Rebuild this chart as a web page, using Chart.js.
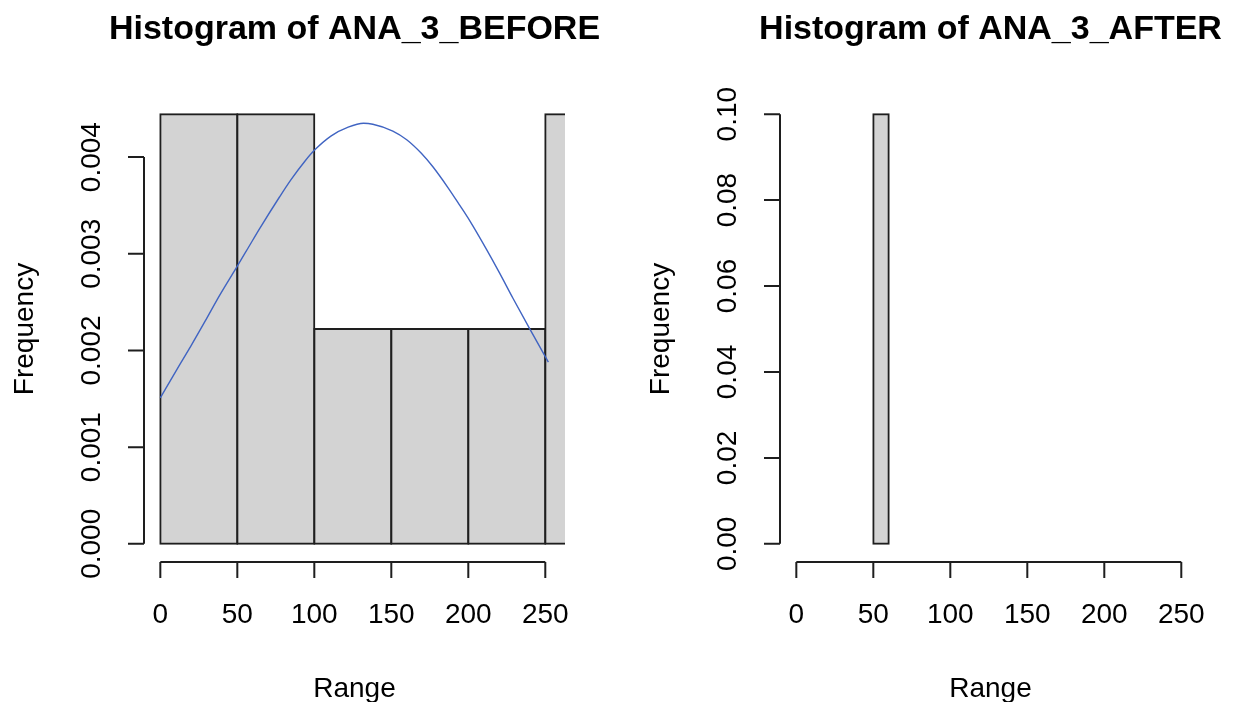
<!DOCTYPE html>
<html>
<head>
<meta charset="utf-8">
<script src="https://cdn.jsdelivr.net/npm/chart.js@4/dist/chart.umd.min.js"></script>
<style>
  html, body { margin: 0; padding: 0; background: #fff; overflow: hidden; }
  body { width: 1242px; height: 702px; position: relative; }
  .panel { position: absolute; top: 0; width: 621px; height: 702px; }
  #p-before { left: 0; }
  #p-after  { left: 636px; }
</style>
</head>
<body>
<div class="panel" id="p-before"><canvas id="before" width="621" height="702"></canvas></div>
<div class="panel" id="p-after"><canvas id="after" width="621" height="702"></canvas></div>

<script>
/* ===== Data ===== */
const breaksBefore  = [0, 50, 100, 150, 200, 250, 300];
const densityBefore = [0.004444, 0.004444, 0.002222, 0.002222, 0.002222, 0.004444];

const breaksAfter  = [50, 60];
const densityAfter = [0.1];

// blue density curve drawn over the BEFORE histogram
const curveX = [0, 11, 20, 29, 38.5, 49.5, 57, 64.5, 77.5, 85, 94, 100, 111, 122, 132, 138,
                151, 160, 169.5, 177, 187, 194.5, 201, 212, 220, 229, 240, 252];
const curveY = [0.00151, 0.00181, 0.00205, 0.00230, 0.00257, 0.00286, 0.00306, 0.00326,
                0.00359, 0.00377, 0.00396, 0.00407, 0.00422, 0.00431, 0.00435, 0.00434,
                0.00427, 0.00418, 0.00404, 0.00390, 0.00368, 0.00350, 0.00334, 0.00304,
                0.00281, 0.00254, 0.00222, 0.00188];

const xTickVals = [0, 50, 100, 150, 200, 250];
const xUsr      = [-10.6, 262.8];

const yTicksBefore  = [0, 0.001, 0.002, 0.003, 0.004];
const yLabelsBefore = ['0.000', '0.001', '0.002', '0.003', '0.004'];
const yTicksAfter   = [0, 0.02, 0.04, 0.06, 0.08, 0.10];
const yLabelsAfter  = ['0.00', '0.02', '0.04', '0.06', '0.08', '0.10'];

/* ===== Look ===== */
const FONT = '"Liberation Sans", Arial, Helvetica, sans-serif';
const INK  = '#1e1e1e';
const FILL = '#d3d3d3';
const TICK = 16;

/* ===== R-style axes, titles ===== */
const rAxes = {
  id: 'rAxes',
  afterDraw(chart, args, o){
    const { ctx, chartArea: a, scales: { x, y } } = chart;
    ctx.save();
    ctx.strokeStyle = INK;
    ctx.fillStyle = '#000';
    ctx.lineWidth = 2;

    // x axis: line spans first..last tick, sits under the plot region
    const xb = a.bottom + 1;
    const xp = o.xTicks.map(v => x.getPixelForValue(v));
    ctx.beginPath();
    ctx.moveTo(xp[0], xb); ctx.lineTo(xp[xp.length-1], xb);
    xp.forEach(px => { ctx.moveTo(px, xb); ctx.lineTo(px, xb + TICK); });
    ctx.stroke();
    ctx.font = '28px ' + FONT;
    ctx.textAlign = 'center';
    ctx.textBaseline = 'alphabetic';
    o.xTicks.forEach((v, i) => ctx.fillText(String(v), xp[i], a.bottom + 62));

    // y axis
    const yl = a.left;
    const yp = o.yTicks.map(v => y.getPixelForValue(v));
    ctx.beginPath();
    ctx.moveTo(yl, yp[0]); ctx.lineTo(yl, yp[yp.length-1]);
    yp.forEach(py => { ctx.moveTo(yl, py); ctx.lineTo(yl - TICK, py); });
    ctx.stroke();
    o.yLabels.forEach((t, i) => {
      ctx.save();
      ctx.translate(yl - 44, yp[i]);
      ctx.rotate(-Math.PI / 2);
      ctx.fillText(t, 0, 0);
      ctx.restore();
    });

    // axis titles
    const cx = (a.left + a.right) / 2, cy = (a.top + a.bottom) / 2;
    ctx.fillText(o.xTitle, cx, 697);
    ctx.save();
    ctx.translate(a.left - 111, cy);
    ctx.rotate(-Math.PI / 2);
    ctx.fillText(o.yTitle, 0, 0);
    ctx.restore();

    // main title
    ctx.font = 'bold 34px ' + FONT;
    ctx.fillText(o.title, cx, 39);
    ctx.restore();
  }
};

/* ===== Builders ===== */
function histPoints(breaks, dens){
  return dens.map((d, i) => ({ x: (breaks[i] + breaks[i+1]) / 2, y: d }));
}

function makeHist(id, title, breaks, dens, yTicks, yLabels, extra){
  const top = Math.max(...dens);
  const datasets = [{
    type: 'bar',
    data: histPoints(breaks, dens),
    backgroundColor: FILL,
    borderColor: INK,
    borderWidth: 2,
    inflateAmount: 1,
    borderSkipped: false,
    barPercentage: 1,
    categoryPercentage: 1,
    clip: 0,
    order: 2
  }].concat(extra || []);

  return new Chart(document.getElementById(id).getContext('2d'), {
    type: 'bar',
    data: { datasets },
    options: {
      responsive: false,
      animation: false,
      events: [],
      layout: { padding: { left: 144, right: 56, top: 97, bottom: 141 } },
      plugins: {
        legend: { display: false },
        tooltip: { enabled: false },
        rAxes: { title, xTitle: 'Range', yTitle: 'Frequency', xTicks: xTickVals, yTicks, yLabels }
      },
      scales: {
        x: {
          type: 'linear', display: false, offset: false,
          min: xUsr[0], max: xUsr[1],
          // histogram breaks as ticks -> bar width = one bin
          afterBuildTicks: s => { s.ticks = breaks.map(v => ({ value: v })); }
        },
        y: { type: 'linear', display: false, min: -0.04 * top, max: 1.04 * top }
      }
    },
    plugins: [rAxes]
  });
}

/* ===== Init ===== */
makeHist('before', 'Histogram of ANA_3_BEFORE', breaksBefore, densityBefore, yTicksBefore, yLabelsBefore, [{
  type: 'line',
  data: curveX.map((x, i) => ({ x, y: curveY[i] })),
  borderColor: '#4064c2',
  borderWidth: 1.4,
  pointRadius: 0,
  fill: false,
  cubicInterpolationMode: 'monotone',
  order: 1
}]);

makeHist('after', 'Histogram of ANA_3_AFTER', breaksAfter, densityAfter, yTicksAfter, yLabelsAfter);
</script>
</body>
</html>
